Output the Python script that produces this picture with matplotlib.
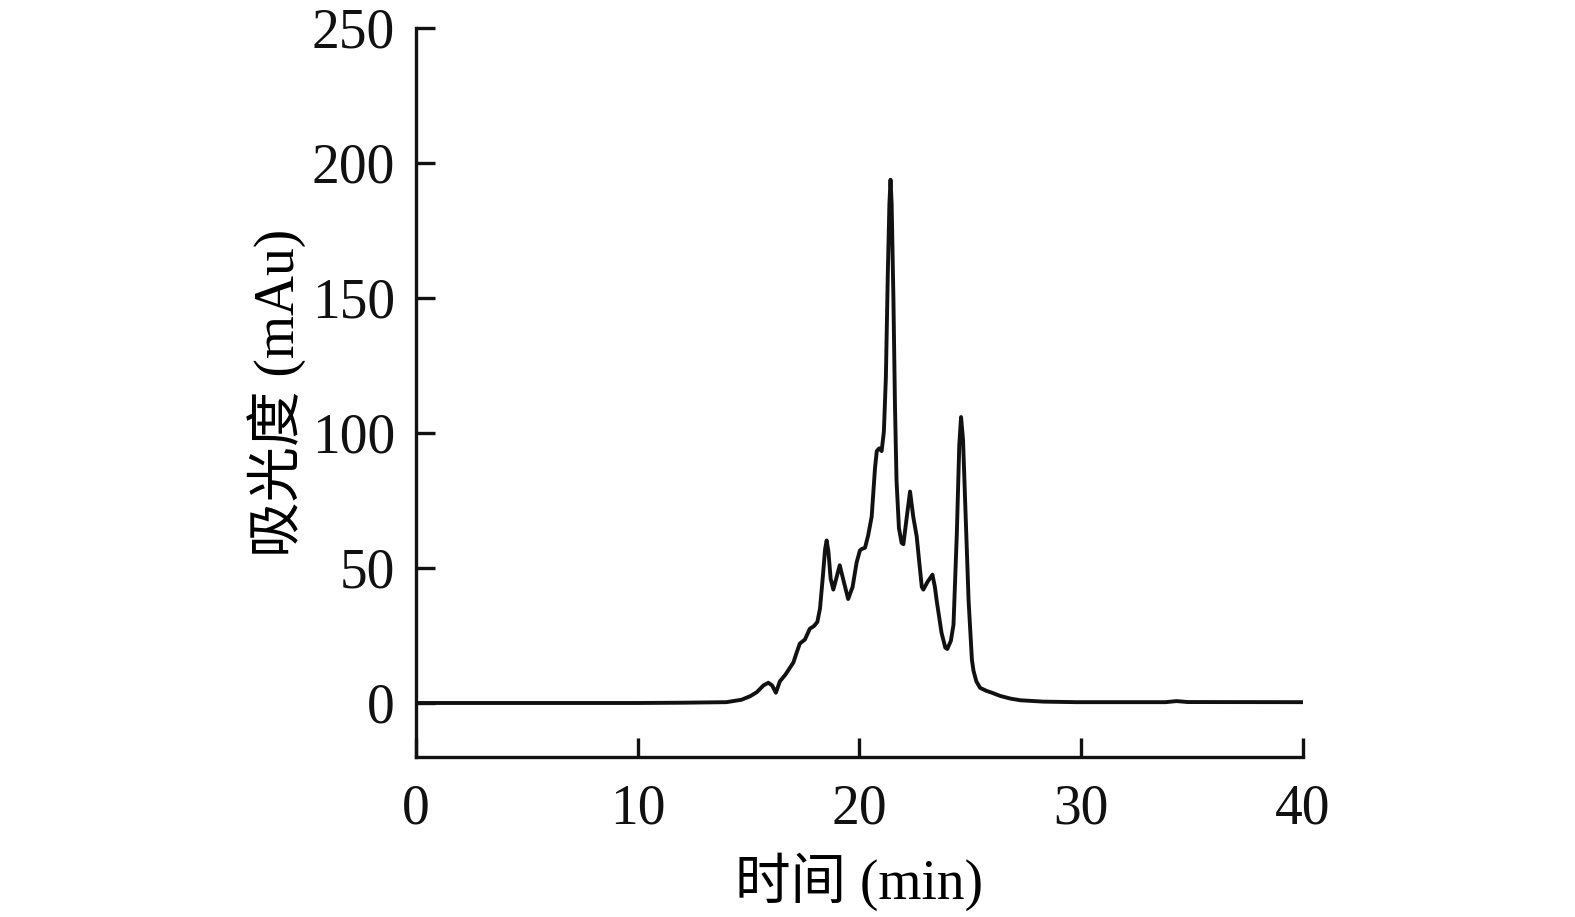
import matplotlib
matplotlib.use("Agg")
import matplotlib.pyplot as plt

plt.rcParams['font.family'] = ['Liberation Serif', 'Noto Sans CJK SC']

time_min = [0, 5, 10, 12, 14, 14.68, 15.07, 15.37, 15.67, 15.89, 16.06, 16.23, 16.41, 16.66,
            16.86, 17.02, 17.16, 17.31, 17.54, 17.76, 17.95, 18.1, 18.22, 18.35, 18.45,
            18.52, 18.6, 18.7, 18.82, 18.95, 19.11, 19.29, 19.49, 19.69, 19.87, 20.02,
            20.1, 20.25, 20.39, 20.55, 20.7, 20.78, 20.89, 21.0, 21.1, 21.19, 21.28,
            21.35, 21.4, 21.45, 21.53, 21.6, 21.67, 21.78, 21.9, 21.98, 22.13, 22.28,
            22.43, 22.58, 22.71, 22.81, 22.88, 23.08, 23.29, 23.4, 23.48, 23.7, 23.87,
            23.96, 24.12, 24.24, 24.39, 24.5, 24.58, 24.67, 24.76, 24.92, 25.07, 25.14,
            25.27, 25.44, 25.72, 25.97, 26.35, 26.82, 27.26, 28.3, 29.8, 33.8, 34.3, 34.8, 40]
absorbance = [0, 0, 0, 0.1, 0.3, 1.2, 2.5, 4, 6.5, 7.5, 6.5, 3.8, 8, 10.5,
              13, 15, 18.5, 22, 23.5, 27.5, 28.5, 30, 35, 47, 57,
              60.2, 56, 46, 42, 46, 51, 45, 38.5, 43, 52, 56.5,
              57, 57.5, 62, 69, 87, 93.3, 94.3, 93.3, 100.5, 120.5, 160,
              185, 193.8, 185, 150, 110.5, 82.5, 64.7, 59.3, 58.8, 68.7, 78.3,
              68.7, 61.7, 51, 43, 42, 45, 47.5, 43, 38, 26, 20.5,
              20, 23, 29, 62.8, 95.5, 105.9, 97.5, 75.8, 38, 16, 12,
              8, 5.6, 4.5, 3.8, 2.6, 1.6, 1.0, 0.5, 0.3, 0.3, 0.7, 0.35, 0.3]

x_ticks = [0, 10, 20, 30, 40]
y_ticks = [0, 50, 100, 150, 200, 250]

fig = plt.figure(figsize=(15.75, 9.17), dpi=100)
ax = fig.add_axes([0.2641, 0.1745, 0.5632, 0.795])
ax.plot(time_min, absorbance, color='#111111', lw=2.8,
        solid_joinstyle='round', solid_capstyle='round')

ax.set_xlim(0, 40)
ax.set_ylim(-20, 250)
ax.set_xticks(x_ticks)
ax.set_yticks(y_ticks)
ax.spines['top'].set_visible(False)
ax.spines['right'].set_visible(False)
for s in ['left', 'bottom']:
    ax.spines[s].set_linewidth(2.4)
    ax.spines[s].set_color('#111111')
ax.tick_params(direction='in', length=14, width=2.4, labelsize=40, colors='#111111')
ax.tick_params(axis='x', pad=19)
ax.tick_params(axis='y', pad=15)
ax.set_xlabel('时间 (min)', fontsize=40, labelpad=12)
ax.set_ylabel('吸光度 (mAu)', fontsize=40, labelpad=4)
fig.savefig('out.png', dpi=100)
